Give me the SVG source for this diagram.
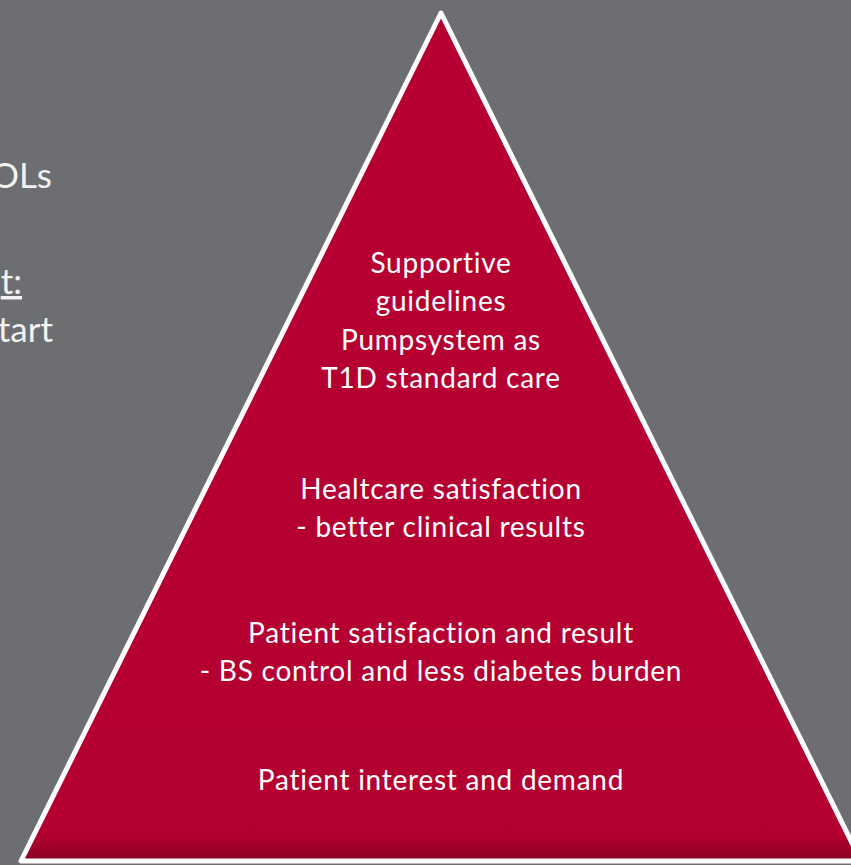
<svg xmlns="http://www.w3.org/2000/svg" width="851" height="865" viewBox="0 0 851 865">
<defs>
<style>
.lbl{font-family:Lato,"Open Sans","Liberation Sans",sans-serif;font-size:28px;letter-spacing:0.75px;fill:#ffffff;text-anchor:middle}
.side{font-family:Lato,"Open Sans","Liberation Sans",sans-serif;font-size:35px;fill:#f2f2f2}
</style>
<linearGradient id="shade" x1="0" y1="0" x2="0" y2="1">
<stop offset="0" stop-color="#b60031"/>
<stop offset="0.97" stop-color="#b40031"/>
<stop offset="1" stop-color="#8a0024"/>
</linearGradient>
</defs>
<rect width="851" height="865" fill="#6d6e71"/>
<g id="left-text">
<text class="side" x="52" y="188" text-anchor="end">OLs</text>
<text class="side" x="22" y="294" text-anchor="end" text-decoration="underline">t:</text>
<text class="side" x="53" y="342" text-anchor="end">tart</text>
</g>
<g id="pyramid">
<polygon points="441,13 21,861 861,861" fill="url(#shade)" stroke="#ffffff" stroke-width="5" stroke-linejoin="round"/>
</g>
<g id="level4">
<text class="lbl" x="441" y="273">Supportive</text>
<text class="lbl" x="441" y="311">guidelines</text>
<text class="lbl" x="441" y="350">Pumpsystem as</text>
<text class="lbl" x="441" y="388">T1D standard care</text>
</g>
<g id="level3">
<text class="lbl" x="441" y="499">Healtcare satisfaction</text>
<text class="lbl" x="441" y="537">- better clinical results</text>
</g>
<g id="level2">
<text class="lbl" x="441" y="643">Patient satisfaction and result</text>
<text class="lbl" x="441" y="681">- BS control and less diabetes burden</text>
</g>
<g id="level1">
<text class="lbl" x="441" y="790">Patient interest and demand</text>
</g>
<g id="connectors"/>
</svg>
